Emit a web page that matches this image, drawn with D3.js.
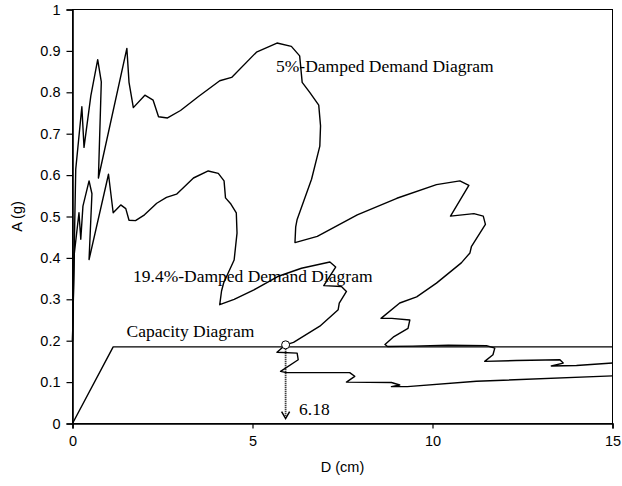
<!DOCTYPE html>
<html>
<head>
<meta charset="utf-8">
<script src="https://cdn.jsdelivr.net/npm/d3@7"></script>
<style>
  body { margin: 0; background: #fff; }
  svg { display: block; }
</style>
</head>
<body>
<div id="chart"></div>
<script>
// capacity diagram
var capD = [0, 1.13, 15];
var capA = [0, 0.185, 0.185];

// 5%-damped demand diagram
var d5D = [0, 0.09, 0.26, 0.32, 0.51, 0.70, 0.80, 0.72, 1.51, 1.57, 1.69, 2.01, 2.24, 2.39, 2.64, 3.0, 3.5, 4.09, 4.42,
  5.11, 5.68, 6.08, 6.31, 6.38, 6.59, 6.84, 6.89, 6.87, 6.64, 6.24, 6.2, 6.18, 6.8, 7.91, 9.01, 10.11, 10.76, 11.01,
  10.5, 11.15, 11.41, 11.47, 11.08, 11.04, 10.8, 10.11, 9.56, 9.09, 8.57, 8.87, 9.37, 9.32, 8.93, 8.68, 8.75, 9.45,
  10.44, 11.5, 11.73, 11.68, 11.45, 12.32, 13.54, 13.63, 13.3, 14.0, 15];
var d5A = [0.2, 0.614, 0.765, 0.667, 0.792, 0.879, 0.825, 0.593, 0.906, 0.824, 0.763, 0.793, 0.781, 0.741, 0.738, 0.756, 0.79, 0.828, 0.836,
  0.897, 0.919, 0.911, 0.888, 0.824, 0.8, 0.769, 0.719, 0.67, 0.59, 0.493, 0.475, 0.437, 0.452, 0.504, 0.544, 0.577, 0.586, 0.575,
  0.501, 0.507, 0.501, 0.481, 0.427, 0.412, 0.388, 0.339, 0.306, 0.291, 0.254, 0.254, 0.25, 0.23, 0.21, 0.191, 0.186, 0.187,
  0.189, 0.188, 0.182, 0.166, 0.150, 0.152, 0.154, 0.146, 0.139, 0.140, 0.146];

// 19.4%-damped demand diagram
var d194D = [0, 0.05, 0.18, 0.23, 0.29, 0.46, 0.54, 0.46, 1.0, 1.13, 1.34, 1.48, 1.57, 1.75, 2.0, 2.34, 2.61, 2.89, 3.36,
  3.77, 4.05, 4.21, 4.25, 4.4, 4.55, 4.57, 4.49, 4.2, 4.14, 4.09, 4.49, 5.04, 5.7, 6.36, 7.15, 7.31, 6.98, 7.47, 7.61,
  7.41, 7.38, 6.87, 6.14, 5.92, 5.68, 6.24, 6.27, 5.78, 5.94, 7.70, 7.84, 7.61, 8.86, 9.09, 8.86, 9.3, 11.22, 15];
var d194A = [0.2, 0.41, 0.509, 0.445, 0.525, 0.586, 0.555, 0.396, 0.602, 0.509, 0.528, 0.519, 0.491, 0.49, 0.504, 0.532, 0.546, 0.554, 0.593,
  0.61, 0.604, 0.586, 0.545, 0.53, 0.509, 0.46, 0.395, 0.34, 0.32, 0.287, 0.3, 0.323, 0.355, 0.375, 0.39, 0.378, 0.333, 0.331, 0.319,
  0.291, 0.275, 0.235, 0.196, 0.19, 0.172, 0.170, 0.154, 0.126, 0.123, 0.123, 0.114, 0.100, 0.099, 0.093, 0.089, 0.089, 0.102, 0.115];

// performance point
var perfD = 5.92;
var perfA = 0.19;
var perfLabel = "6.18";

var xTicks = [0, 5, 10, 15];
var yTicks = [0, 0.1, 0.2, 0.3, 0.4, 0.5, 0.6, 0.7, 0.8, 0.9, 1];
var yTickLabels = ["0", "0.1", "0.2", "0.3", "0.4", "0.5", "0.6", "0.7", "0.8", "0.9", "1"];

var w = 622, h = 486;
var mLeft = 72.5, mRight = 612.5, mTop = 9.5, mBottom = 423.5;

var svg = d3.select("#chart").append("svg")
  .attr("width", w)
  .attr("height", h);

var x = d3.scaleLinear().domain([0, 15]).range([mLeft, mRight]);
var y = d3.scaleLinear().domain([0, 1]).range([mBottom, mTop]);

// plot frame
svg.append("rect")
  .attr("x", mLeft).attr("y", mTop)
  .attr("width", mRight - mLeft).attr("height", mBottom - mTop)
  .attr("fill", "none").attr("stroke", "#000").attr("stroke-width", 1);

var yAxis = svg.append("g")
  .attr("transform", "translate(" + mLeft + ",0)")
  .call(d3.axisLeft(y).tickValues(yTicks).tickSize(6).tickPadding(6)
    .tickFormat(function(d, i) { return yTickLabels[i]; }));

var xAxis = svg.append("g")
  .attr("transform", "translate(0," + mBottom + ")")
  .call(d3.axisBottom(x).tickValues(xTicks).tickSize(5).tickPadding(7));

[yAxis, xAxis].forEach(function(g) {
  g.select(".domain").attr("stroke-width", 1.6);
  g.selectAll(".tick line").attr("stroke-width", 1.2);
  g.selectAll("text")
    .attr("font-family", "Liberation Sans, Arial, sans-serif")
    .attr("font-size", "14.5px")
    .attr("fill", "#000");
});

svg.append("text")
  .attr("x", (mLeft + mRight) / 2).attr("y", 472)
  .attr("text-anchor", "middle")
  .attr("font-family", "Liberation Sans, Arial, sans-serif")
  .attr("font-size", "14.5px")
  .text("D (cm)");

svg.append("text")
  .attr("transform", "translate(22," + ((mTop + mBottom) / 2) + ") rotate(-90)")
  .attr("text-anchor", "middle")
  .attr("font-family", "Liberation Sans, Arial, sans-serif")
  .attr("font-size", "14.5px")
  .text("A (g)");

var line = d3.line()
  .x(function(d) { return x(d[0]); })
  .y(function(d) { return y(d[1]); });

[[capD, capA], [d5D, d5A], [d194D, d194A]].forEach(function(s) {
  svg.append("path")
    .datum(d3.zip(s[0], s[1]))
    .attr("d", line)
    .attr("fill", "none")
    .attr("stroke", "#000")
    .attr("stroke-width", 1.4)
    .attr("stroke-linejoin", "round");
});

// dotted arrow down to the D axis
var arrowEnd = 0.012;
svg.append("line")
  .attr("x1", x(perfD)).attr("x2", x(perfD))
  .attr("y1", y(perfA)).attr("y2", y(arrowEnd) - 2)
  .attr("stroke", "#000")
  .attr("stroke-width", 1.8)
  .attr("stroke-dasharray", "1,1");

svg.append("path")
  .attr("d", "M" + (x(perfD) - 4) + "," + (y(arrowEnd) - 7) +
    "L" + x(perfD) + "," + y(arrowEnd) +
    "L" + (x(perfD) + 4) + "," + (y(arrowEnd) - 7))
  .attr("fill", "none")
  .attr("stroke", "#000")
  .attr("stroke-width", 1.5);

svg.append("circle")
  .attr("cx", x(perfD)).attr("cy", y(perfA))
  .attr("r", 4)
  .attr("fill", "#fff")
  .attr("stroke", "#000")
  .attr("stroke-width", 1);

// annotations
var notes = [
  { t: "5%-Damped Demand Diagram", x: 276, y: 72 },
  { t: "19.4%-Damped Demand Diagram", x: 133, y: 282 },
  { t: "Capacity Diagram", x: 126.5, y: 337 },
  { t: perfLabel, x: 299, y: 415 }
];

svg.selectAll("text.note")
  .data(notes)
  .enter()
  .append("text")
  .attr("class", "note")
  .attr("x", function(d) { return d.x; })
  .attr("y", function(d) { return d.y; })
  .attr("font-family", "Liberation Serif, Times New Roman, serif")
  .attr("font-size", "17.5px")
  .text(function(d) { return d.t; });
</script>
</body>
</html>
